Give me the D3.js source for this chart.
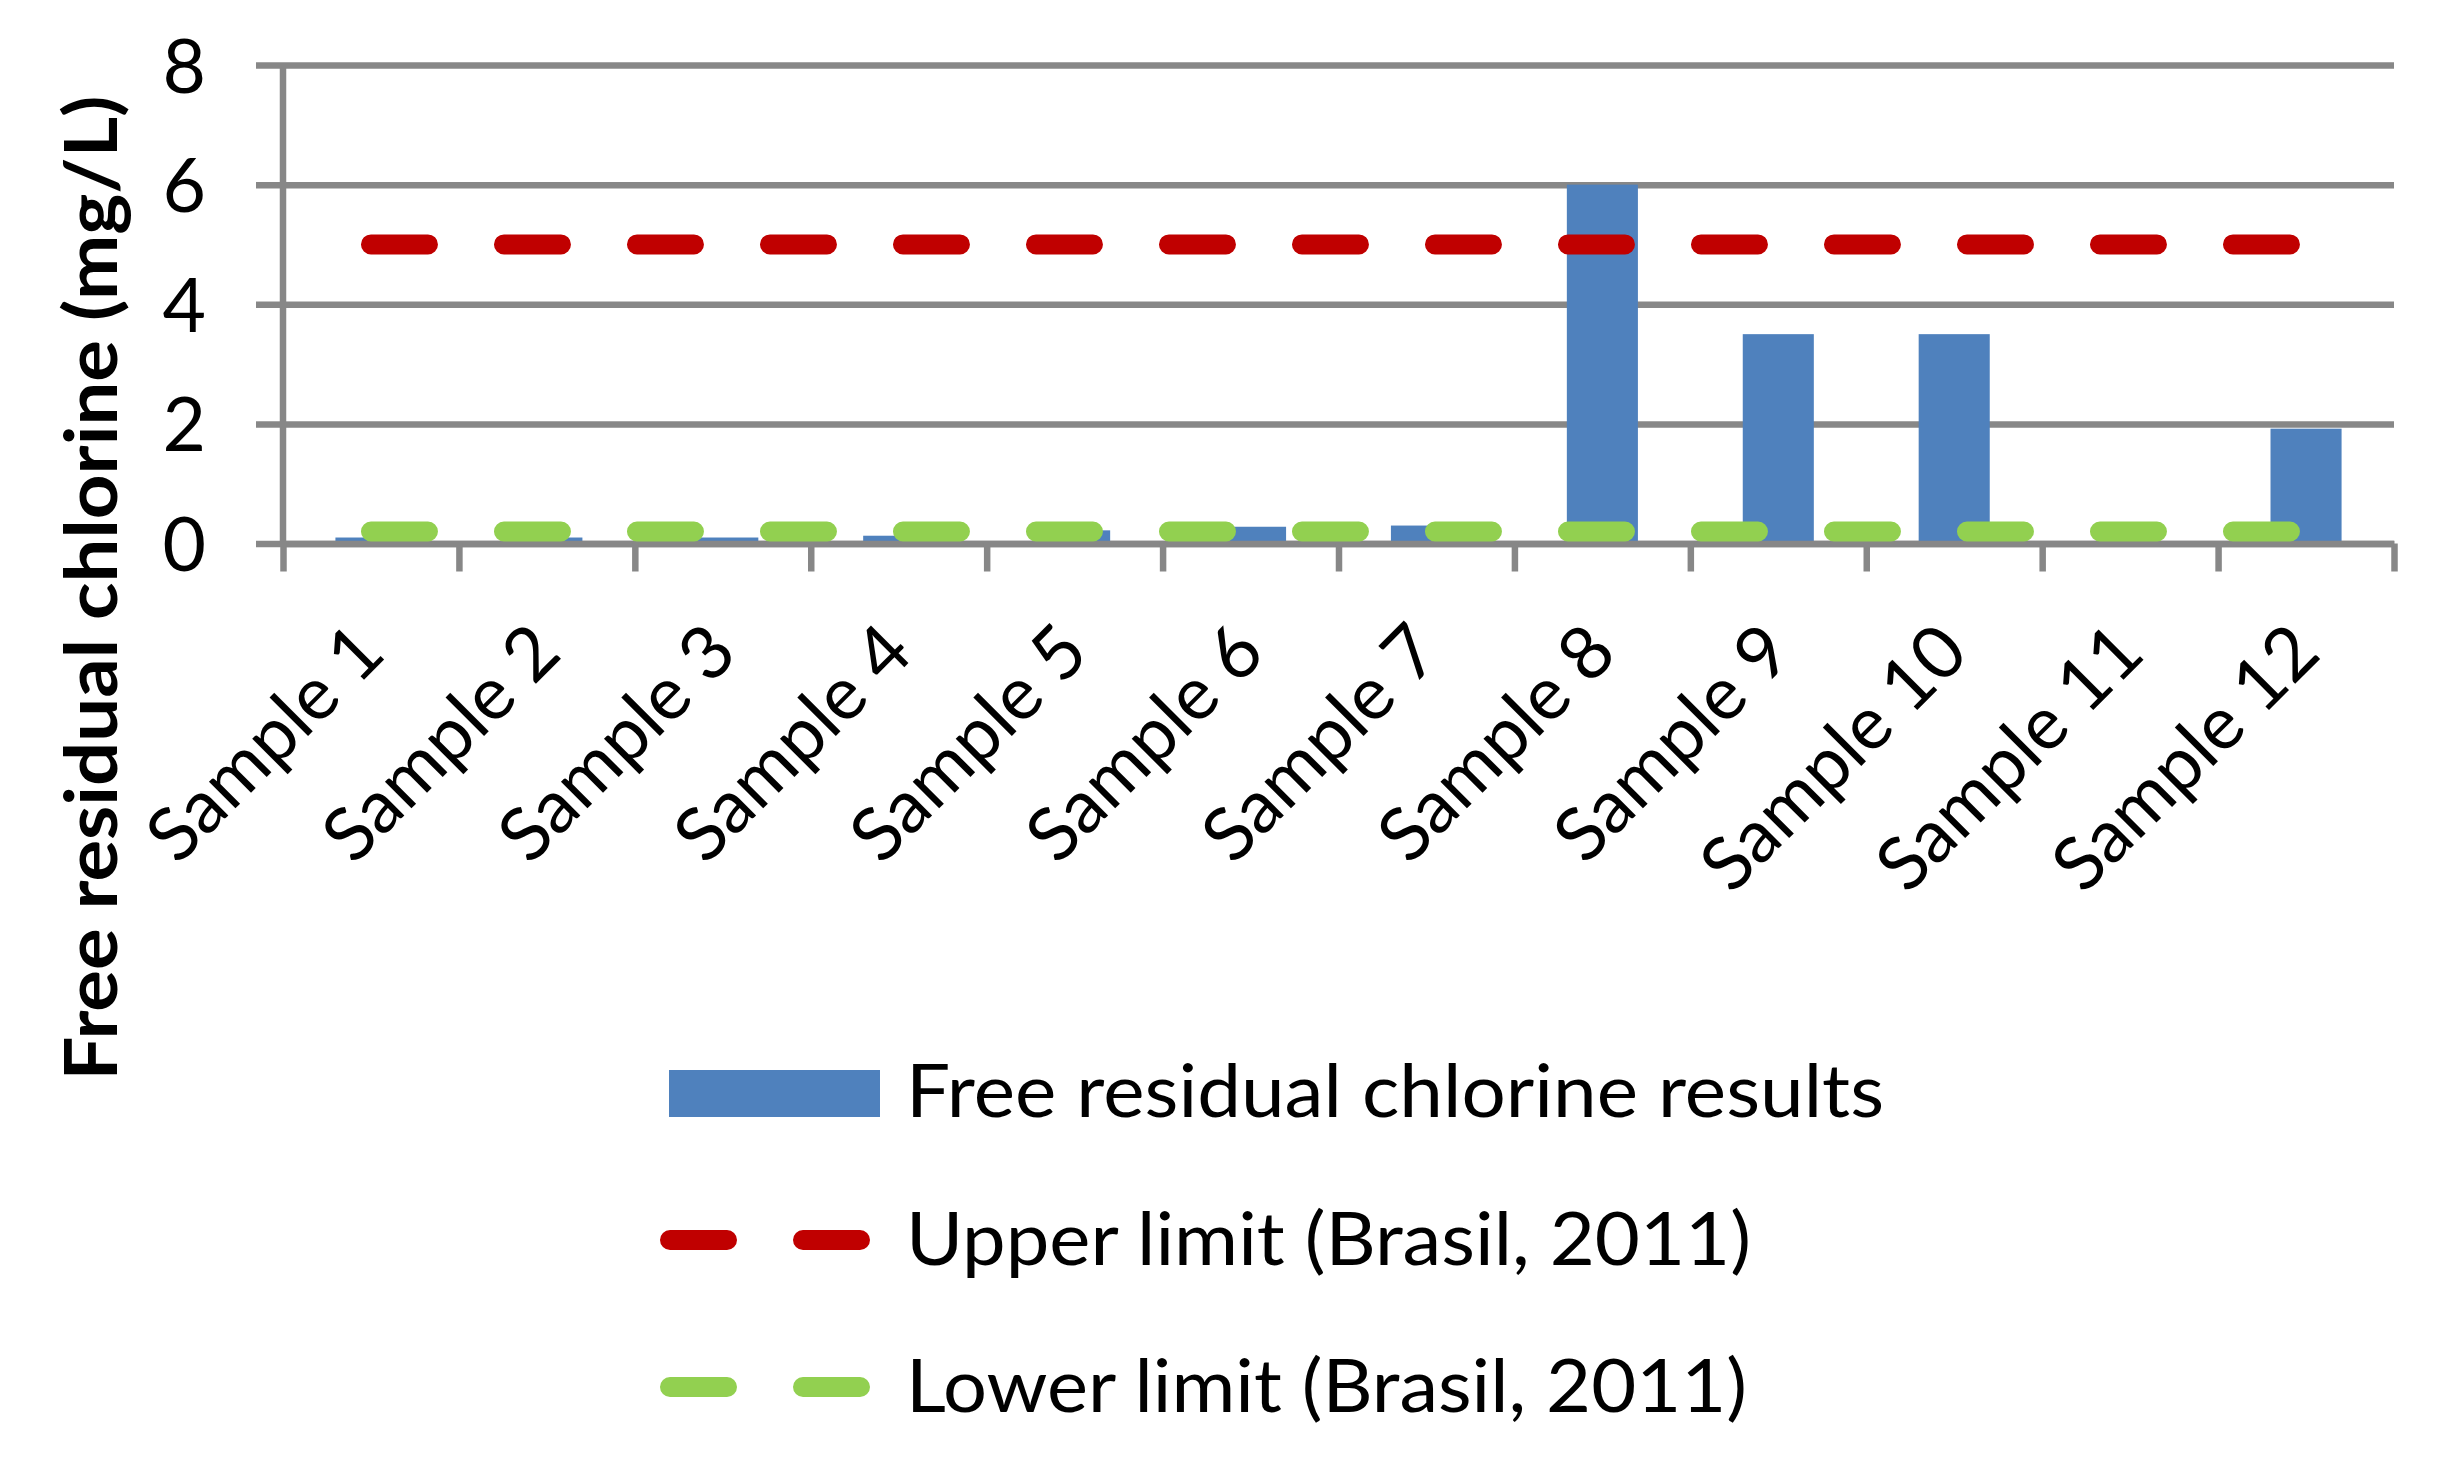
<!DOCTYPE html>
<html>
<head>
<meta charset="utf-8">
<script src="https://cdn.jsdelivr.net/npm/d3@7"></script>
<style>
  html, body { margin: 0; padding: 0; background: #ffffff; }
  svg { display: block; }
  text { font-family: Lato, "Open Sans", sans-serif; fill: #000; }
</style>
</head>
<body>
<svg id="chart" width="2462" height="1472"></svg>
<script>
// ---- data ----
const categories = ["Sample 1", "Sample 2", "Sample 3", "Sample 4", "Sample 5", "Sample 6",
                    "Sample 7", "Sample 8", "Sample 9", "Sample 10", "Sample 11", "Sample 12"];
const chlorineResults = [0.1, 0.1, 0.1, 0.13, 0.22, 0.28, 0.3, 6.0, 3.5, 3.5, 0, 1.92];
const upperLimit = [5, 5, 5, 5, 5, 5, 5, 5, 5, 5, 5, 5];
const lowerLimit = [0.2, 0.2, 0.2, 0.2, 0.2, 0.2, 0.2, 0.2, 0.2, 0.2, 0.2, 0.2];
const yTickValues = [0, 2, 4, 6, 8];
const seriesNames = ["Free residual chlorine results", "Upper limit (Brasil, 2011)", "Lower limit (Brasil, 2011)"];
const yAxisTitle = "Free residual chlorine (mg/L)";

// ---- styles ----
const gridColor = "#878787";
const barColor = "#4F81BD";
const upperColor = "#C00000";
const lowerColor = "#92D050";

const svg = d3.select("#chart");
svg.append("rect").attr("width", 2462).attr("height", 1472).attr("fill", "#fff");

const plotL = 283, plotR = 2394, plotT = 65, plotB = 543.5;
const x = d3.scaleBand().domain(categories).range([plotL, plotR]).paddingInner(0).paddingOuter(0);
const xBound = d3.scaleLinear().domain([0, categories.length]).range([plotL, plotR]);
const y = d3.scaleLinear().domain([0, 8]).range([plotB, plotT]);

// gridlines (extend past the axis as outside ticks)
const gridAxis = d3.axisLeft(y).tickValues(yTickValues).tickSize(plotR - 256).tickFormat("");
const gG = svg.append("g").attr("transform", `translate(${plotR},0)`).call(gridAxis);
gG.select(".domain").remove();
gG.selectAll(".tick line").attr("stroke", gridColor).attr("stroke-width", 6.5);

// y tick labels
const labAxis = d3.axisLeft(y).tickValues(yTickValues).tickSize(0).tickPadding(0).tickFormat(d3.format("d"));
const lG = svg.append("g").attr("transform", `translate(206,0)`).call(labAxis);
lG.select(".domain").remove();
lG.selectAll(".tick text")
  .attr("font-size", 75).attr("dy", "0.36em").attr("fill", "#000")
  .style("font-family", "Lato, 'Open Sans', sans-serif");

// bars
const barW = x.bandwidth() * 0.404;
svg.append("g").selectAll("rect").data(categories).join("rect")
  .attr("x", d => x(d) + (x.bandwidth() - barW) / 2)
  .attr("width", barW)
  .attr("y", (d, i) => y(chlorineResults[i]))
  .attr("height", (d, i) => y(0) - y(chlorineResults[i]))
  .attr("fill", barColor);

// x axis (line + boundary ticks)
const xAxis = d3.axisBottom(xBound).tickValues(d3.range(categories.length + 1))
  .tickSizeInner(28).tickSizeOuter(0).tickFormat("");
const xG = svg.append("g").attr("transform", `translate(0,${plotB})`).call(xAxis);
xG.select(".domain").attr("stroke", gridColor).attr("stroke-width", 6.5);
xG.selectAll(".tick line").attr("stroke", gridColor).attr("stroke-width", 6.5);

// y axis line
svg.append("line").attr("x1", plotL).attr("x2", plotL).attr("y1", y(8)).attr("y2", plotB)
  .attr("stroke", gridColor).attr("stroke-width", 6.5);

// limit lines
const limitLine = d3.line().x((d, i) => x(categories[i]) + x.bandwidth() / 2).y(d => y(d));
function drawLimit(values, color) {
  svg.append("path").datum(values).attr("d", limitLine)
    .attr("fill", "none").attr("stroke", color).attr("stroke-width", 20)
    .attr("stroke-linecap", "round").attr("stroke-dasharray", "57 76");
}
drawLimit(upperLimit, upperColor);
drawLimit(lowerLimit, lowerColor);

// x labels
const xLabW = d => (6584 + 1038 * (d.length - 7)) / 2048 * 82 - 8;
svg.append("g").selectAll("text").data(categories).join("text")
  .attr("transform", d => `translate(${x(d) + x.bandwidth() / 2 + 17},656) rotate(-45)`)
  .attr("text-anchor", "end")
  .attr("font-size", 74)
  .attr("textLength", d => xLabW(d))
  .attr("lengthAdjust", "spacingAndGlyphs")
  .text(d => d);

// y axis title
svg.append("text")
  .attr("transform", "translate(117,588) rotate(-90)")
  .attr("text-anchor", "middle")
  .attr("font-size", 73).attr("font-weight", "bold")
  .attr("textLength", 985).attr("lengthAdjust", "spacingAndGlyphs")
  .text(yAxisTitle);

// legend
const legY = [1117, 1265, 1412];
const legLen = [978, 845, 841];
const lg = svg.append("g");
lg.append("rect").attr("x", 669).attr("y", 1070).attr("width", 211).attr("height", 47).attr("fill", barColor);
[[upperColor, 1240], [lowerColor, 1387]].forEach(([c, yy]) => {
  lg.append("path").attr("d", d3.line()([[670, yy], [870, yy]]))
    .attr("fill", "none").attr("stroke", c).attr("stroke-width", 20)
    .attr("stroke-linecap", "round").attr("stroke-dasharray", "57 76");
});
lg.selectAll("text.leg").data(seriesNames).join("text")
  .attr("class", "leg")
  .attr("x", 906).attr("y", (d, i) => legY[i])
  .attr("font-size", 73)
  .attr("textLength", (d, i) => legLen[i]).attr("lengthAdjust", "spacingAndGlyphs")
  .text(d => d);
</script>
</body>
</html>
